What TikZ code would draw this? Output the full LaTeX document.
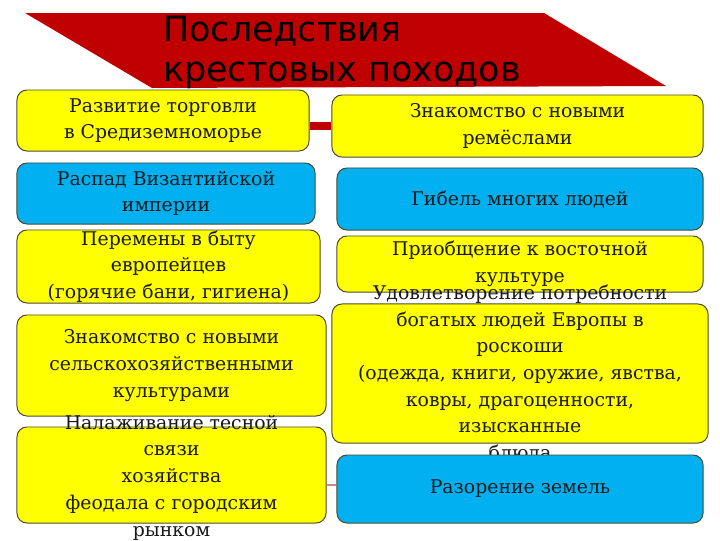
\documentclass[tikz,border=0pt]{standalone}
\usepackage{fontspec}
\setmainfont{DejaVu Serif}
\newfontfamily\titlefont{DejaVu Sans}
\usepackage{xcolor}
\usepackage{tikz}
\definecolor{bannerred}{HTML}{C00000}
\definecolor{boxyellow}{HTML}{FFFF00}
\definecolor{boxblue}{HTML}{00B0F0}
\definecolor{edgegray}{HTML}{4A4A30}
\definecolor{linkpink}{HTML}{D08888}

\tikzset{
 box/.style={draw=edgegray, line width=0.7pt, rounded corners=0.25cm, inner sep=0pt},
 ybox/.style={box, fill=boxyellow},
 bbox/.style={box, fill=boxblue},
 boxtext/.style={align=center, font=\fontsize{13.4}{19}\selectfont, text=black!90},
}

\begin{document}
\begin{tikzpicture}[x=0.025cm,y=-0.025cm]
\useasboundingbox (0,0) rectangle (720,540);
%\fill[bannerred] (25,13) -- (544,13) -- (666,86) -- (152,88) -- cycle;
\fill[bannerred] (25,13) -- (544,13) -- (666,86) -- (152,88) -- cycle;
\node[anchor=north west, align=left, inner sep=0pt, font=\titlefont\fontsize{24.8}{28.5}\selectfont] (title) at (163,16) {Последствия\\крестовых походов};

\node[ybox, minimum width=7.3cm, minimum height=1.525cm] (b1) at (163,120.5) {};
\node[boxtext] (t1) at (b1.center) {Развитие торговли\\в Средиземноморье};
\node[bbox, minimum width=7.45cm, minimum height=1.525cm] (b2) at (166,193.5) {};
\node[boxtext] (t2) at (b2.center) {Распад Византийской\\империи};
\node[ybox, minimum width=7.575cm, minimum height=1.825cm] (b3) at (168.5,266.5) {};
\node[boxtext] (t3) at (b3.center) {Перемены в быту\\европейцев\\(горячие бани, гигиена)};
\node[ybox, minimum width=7.725cm, minimum height=2.525cm] (b4) at (171.5,365.5) {};
\node[boxtext] (t4) at (b4.center) {Знакомство с новыми\\сельскохозяйственными\\культурами};
\node[ybox, minimum width=7.725cm, minimum height=2.4cm] (b5) at (171.5,475) {};
\node[boxtext] (t5) at ([yshift=-1.8pt]b5.center) {Налаживание тесной\\связи\\хозяйства\\феодала с городским\\рынком};

\node[ybox, minimum width=9.275cm, minimum height=1.55cm] (b6) at (517.5,126) {};
\node[boxtext] (t6) at (b6.center) {Знакомство с новыми\\ремёслами};
\node[bbox, minimum width=9.15cm, minimum height=1.55cm] (b7) at (520,199) {};
\node[boxtext] (t7) at (b7.center) {Гибель многих людей};
\node[ybox, minimum width=9.15cm, minimum height=1.4cm] (b8) at (520,264) {};
\node[boxtext] (t8) at (b8.center) {Приобщение к восточной\\культуре};
\node[ybox, minimum width=9.4cm, minimum height=3.475cm] (b9) at (520,373.5) {};
\node[boxtext] (t9) at (b9.center) {Удовлетворение потребности\\богатых людей Европы в\\роскоши\\(одежда, книги, оружие, явства,\\ковры, драгоценности,\\изысканные\\блюда};
\node[bbox, minimum width=9.15cm, minimum height=1.7cm] (b10) at (520,489) {};
\node[boxtext] (t10) at (b10.center) {Разорение земель};

\draw[bannerred, line width=5pt] (b6.west) -- (b6.west -| b1.east);
\draw[linkpink, line width=1pt] ([yshift=2.8pt]b10.west) -- ([yshift=2.8pt]b10.west -| b5.east);

\end{tikzpicture}
\end{document}
